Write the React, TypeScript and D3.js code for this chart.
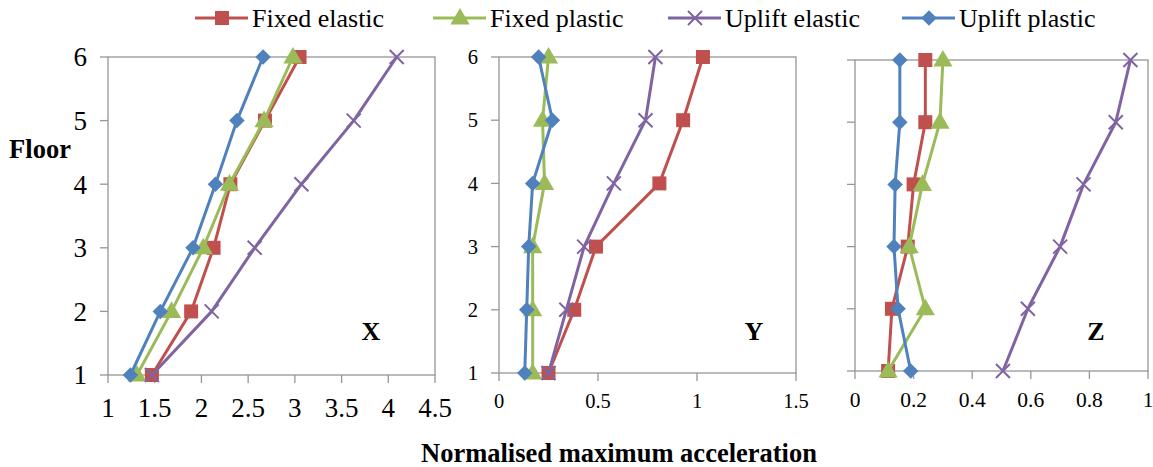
import * as d3 from "d3";
import { useEffect, useRef } from "react";

const floors = [1, 2, 3, 4, 5, 6];
const seriesNames = ["Fixed elastic", "Fixed plastic", "Uplift elastic", "Uplift plastic"];
const seriesColors = ["#C0504D", "#9BBB59", "#8064A2", "#4F81BD"];

// X direction
const xFixedElastic = [1.47, 1.89, 2.13, 2.31, 2.68, 3.05];
const xFixedPlastic = [1.31, 1.68, 2.02, 2.3, 2.67, 2.98];
const xUpliftElastic = [1.47, 2.11, 2.57, 3.07, 3.63, 4.09];
const xUpliftPlastic = [1.24, 1.56, 1.91, 2.15, 2.38, 2.66];

// Y direction
const yFixedElastic = [0.25, 0.38, 0.49, 0.81, 0.93, 1.03];
const yFixedPlastic = [0.17, 0.17, 0.17, 0.23, 0.22, 0.25];
const yUpliftElastic = [0.25, 0.34, 0.43, 0.58, 0.74, 0.79];
const yUpliftPlastic = [0.13, 0.14, 0.15, 0.17, 0.27, 0.2];

// Z direction
const zFixedElastic = [0.113, 0.126, 0.18, 0.2, 0.24, 0.24];
const zFixedPlastic = [0.113, 0.24, 0.185, 0.23, 0.29, 0.3];
const zUpliftElastic = [0.505, 0.59, 0.7, 0.78, 0.89, 0.94];
const zUpliftPlastic = [0.19, 0.147, 0.133, 0.137, 0.153, 0.153];

const xTicks = [1, 1.5, 2, 2.5, 3, 3.5, 4, 4.5];
const yTicks = [0, 0.5, 1, 1.5];
const zTicks = [0, 0.2, 0.4, 0.6, 0.8, 1];

const panels = [
  { label: "X", labelX: 371, left: 108, right: 435, top: 57, bottom: 375, domain: [1, 4.5], ticks: xTicks,
    font: 27, tickBase: 417, yLabels: true,
    data: [xFixedElastic, xFixedPlastic, xUpliftElastic, xUpliftPlastic] },
  { label: "Y", labelX: 754, left: 499, right: 796, top: 57, bottom: 373, domain: [0, 1.5], ticks: yTicks,
    font: 20.5, tickBase: 408, yLabels: true,
    data: [yFixedElastic, yFixedPlastic, yUpliftElastic, yUpliftPlastic] },
  { label: "Z", labelX: 1096, left: 855, right: 1148, top: 60, bottom: 371, domain: [0, 1], ticks: zTicks,
    font: 21.5, tickBase: 407, yLabels: false,
    data: [zFixedElastic, zFixedPlastic, zUpliftElastic, zUpliftPlastic] },
];

const serif = "Liberation Serif, Tinos, Times New Roman, DejaVu Serif, serif";
const axisColor = "#969696";

function drawMarker(g, i, x, y) {
  const c = seriesColors[i];
  if (i === 0) {
    g.append("path").attr("d", d3.symbol(d3.symbolSquare, 196)()).attr("transform", `translate(${x},${y})`).attr("fill", c);
  } else if (i === 1) {
    g.append("path").attr("d", d3.symbol(d3.symbolTriangle, 160)()).attr("transform", `translate(${x},${y + 1})`).attr("fill", c);
  } else if (i === 2) {
    g.append("path").attr("d", d3.symbol(d3.symbolX, 130)()).attr("transform", `translate(${x},${y})`)
      .attr("fill", "none").attr("stroke", c).attr("stroke-width", 2);
  } else {
    g.append("path").attr("d", d3.symbol(d3.symbolSquare, 120)()).attr("transform", `translate(${x},${y}) rotate(45)`).attr("fill", c);
  }
}

export default function App() {
  const ref = useRef(null);

  useEffect(() => {
    const svg = d3.select(ref.current);
    svg.selectAll("*").remove();

    panels.forEach((p) => {
      const x = d3.scaleLinear().domain(p.domain).range([p.left, p.right]);
      const y = d3.scaleLinear().domain([1, 6]).range([p.bottom, p.top]);
      const g = svg.append("g");

      // frame
      g.append("rect").attr("x", p.left).attr("y", p.top).attr("width", p.right - p.left).attr("height", p.bottom - p.top)
        .attr("fill", "none").attr("stroke", axisColor).attr("stroke-width", 1.3);

      // y ticks
      floors.forEach((f) => {
        g.append("line").attr("x1", p.left - 8).attr("x2", p.left).attr("y1", y(f)).attr("y2", y(f))
          .attr("stroke", axisColor).attr("stroke-width", 1.3);
        if (p.yLabels) {
          g.append("text").attr("x", p.left - 21).attr("y", y(f)).attr("dy", "0.35em").attr("text-anchor", "end")
            .attr("font-family", serif).attr("font-size", p.font).text(f);
        }
      });

      // x ticks
      p.ticks.forEach((t) => {
        g.append("line").attr("x1", x(t)).attr("x2", x(t)).attr("y1", p.bottom).attr("y2", p.bottom + 8)
          .attr("stroke", axisColor).attr("stroke-width", 1.3);
        g.append("text").attr("x", x(t)).attr("y", p.tickBase).attr("text-anchor", "middle")
          .attr("font-family", serif).attr("font-size", p.font).text(d3.format("~g")(t));
      });

      // series
      p.data.forEach((vals, i) => {
        const line = d3.line().x((d) => x(d[0])).y((d) => y(d[1]));
        const pts = vals.map((v, k) => [v, floors[k]]);
        g.append("path").attr("d", line(pts)).attr("fill", "none").attr("stroke", seriesColors[i])
          .attr("stroke-width", 3).attr("stroke-linejoin", "round");
        pts.forEach((d) => drawMarker(g, i, x(d[0]), y(d[1])));
      });

      g.append("text").attr("x", p.labelX).attr("y", 340).attr("text-anchor", "middle")
        .attr("font-family", serif).attr("font-weight", "bold").attr("font-size", 26).text(p.label);
    });

    // legend
    const legendX = [195, 433, 668, 902];
    seriesNames.forEach((name, i) => {
      const lg = svg.append("g");
      lg.append("line").attr("x1", legendX[i]).attr("x2", legendX[i] + 53).attr("y1", 18).attr("y2", 18)
        .attr("stroke", seriesColors[i]).attr("stroke-width", 3);
      drawMarker(lg, i, legendX[i] + 27, 18);
      lg.append("text").attr("x", legendX[i] + 57).attr("y", 27)
        .attr("font-family", serif).attr("font-size", 26).text(name);
    });

    svg.append("text").attr("x", 40).attr("y", 158).attr("text-anchor", "middle")
      .attr("font-family", serif).attr("font-weight", "bold").attr("font-size", 26.5).text("Floor");

    svg.append("text").attr("x", 619).attr("y", 462).attr("text-anchor", "middle")
      .attr("font-family", serif).attr("font-weight", "bold").attr("font-size", 26.5).text("Normalised maximum acceleration");
  }, []);

  return (
    <svg ref={ref} width={1153} height={467} style={{ position: "absolute", left: 0, top: 0, background: "#fff" }} />
  );
}
